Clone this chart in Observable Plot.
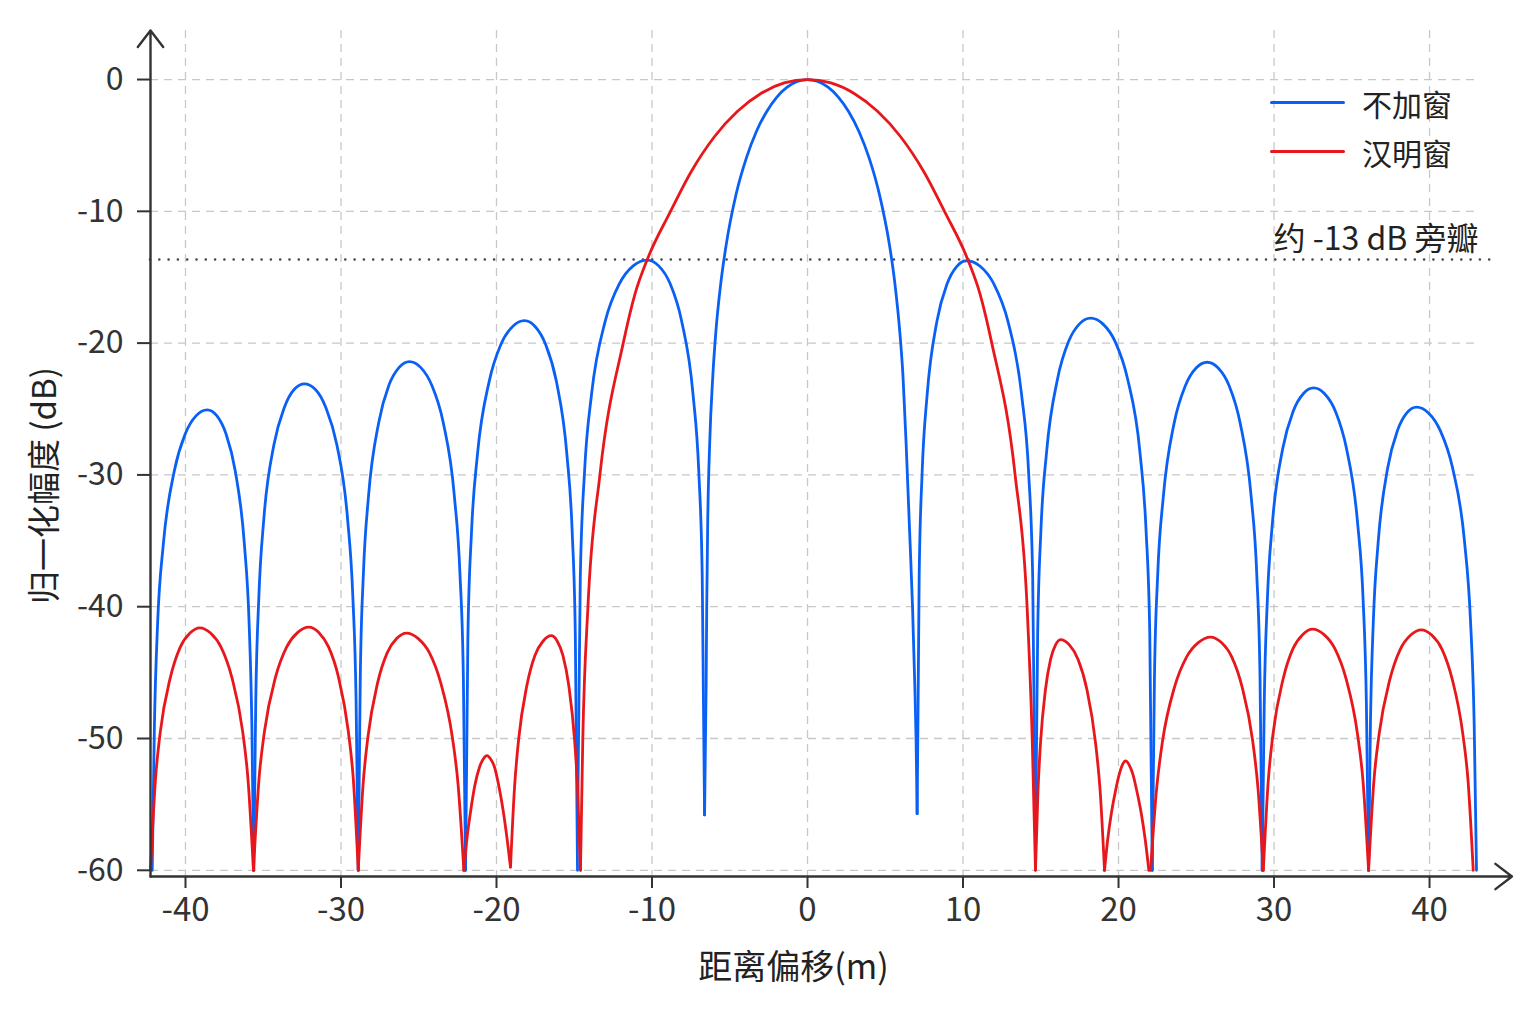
<!DOCTYPE html>
<html><head><meta charset="utf-8">
<script src="https://cdn.jsdelivr.net/npm/d3@7"></script>
<script src="https://cdn.jsdelivr.net/npm/@observablehq/plot@0.6"></script>
<style>
html,body{margin:0;padding:0;background:#fff;}
#wrap{position:relative;width:1536px;height:1024px;font-family:"Noto Sans CJK SC","Noto Sans",sans-serif;}
#legend{position:absolute;left:1270px;top:78px;}
.item{display:flex;align-items:center;height:49px;}
.swatch{width:75px;height:3.5px;margin-right:17px;border-radius:2px;}
.lab{font-size:30px;color:#222;line-height:1;}
</style></head><body><div id="wrap"><div id="legend"></div></div>
<script>
const seriesNames = ["不加窗", "汉明窗"];
const seriesColors = ["#0a60f5", "#e8171b"];
const xTicks = [-40, -30, -20, -10, 0, 10, 20, 30, 40];
const yTicks = [0, -10, -20, -30, -40, -50, -60];
const xDomain = [-42.25, 43.02];
const yDomain = [-60.47, 3.72];
const xAxisEnd = 45.3;
const sidelobeLevel = -13.66;
const sidelobeLineEnd = 44.4;
const sidelobeLabel = "约 -13 dB 旁瓣";
const xLabel = "距离偏移(m)";
const yLabel = "归一化幅度 (dB)";

// 不加窗 (unwindowed) — lobes, [x, dB]
const unwindowedLobes = [
  [[-42.14,-60],[-42.00,-49.1],[-41.79,-41.2],[-41.43,-35.3],[-40.72,-29.7],[-40.02,-26.9],[-39.31,-25.5],[-38.60,-25.06],[-37.99,-25.5],[-37.39,-26.9],[-36.80,-29.7],[-36.21,-35.3],[-35.91,-41.2],[-35.73,-49.1],[-35.61,-60]],
  [[-35.61,-60],[-35.48,-47.1],[-35.28,-39.2],[-34.96,-33.3],[-34.31,-27.7],[-33.65,-24.9],[-33.00,-23.5],[-32.35,-23.09],[-31.66,-23.5],[-30.97,-24.9],[-30.27,-27.7],[-29.58,-33.3],[-29.24,-39.2],[-29.03,-47.1],[-28.89,-60]],
  [[-28.89,-60],[-28.76,-45.4],[-28.56,-37.5],[-28.23,-31.6],[-27.57,-26.0],[-26.92,-23.2],[-26.26,-21.84],[-25.60,-21.4],[-24.88,-21.84],[-24.16,-23.2],[-23.43,-26.0],[-22.71,-31.6],[-22.35,-37.5],[-22.13,-45.4],[-21.99,-60]],
  [[-21.99,-60],[-21.84,-42.3],[-21.61,-34.4],[-21.23,-28.5],[-20.47,-22.9],[-19.72,-20.1],[-18.96,-18.74],[-18.20,-18.3],[-17.52,-18.74],[-16.84,-20.1],[-16.15,-22.9],[-15.47,-28.5],[-15.13,-34.4],[-14.93,-42.3],[-14.79,-60]],
  [[-14.79,-57],[-14.61,-37.7],[-14.34,-29.8],[-13.89,-23.9],[-13.00,-18.3],[-12.10,-15.5],[-11.21,-14.14],[-10.31,-13.7],[-9.57,-14.14],[-8.83,-15.5],[-8.10,-18.3],[-7.36,-23.9],[-6.99,-29.8],[-6.77,-37.7],[-6.62,-55.8]],
  [[-6.62,-55.8],[-6.52,-46],[-6.48,-39.9],[-6.42,-33.8],[-6.29,-27.6],[-6.09,-22.5],[-5.90,-19.23],[-5.57,-15.39],[-5.24,-12.62],[-4.59,-8.69],[-3.93,-5.94],[-3.28,-3.92],[-2.62,-2.42],[-1.97,-1.33],[-1.31,-0.58],[-0.66,-0.14],[0,0],
   [0.66,-0.14],[1.32,-0.58],[1.98,-1.33],[2.64,-2.42],[3.30,-3.92],[3.96,-5.94],[4.62,-8.69],[5.28,-12.62],[5.61,-15.39],[5.94,-19.23],[6.14,-22.5],[6.34,-27.6],[6.55,-33.8],[6.75,-39.9],[6.90,-46],[6.98,-50],[7.05,-55.7]],
  [[7.05,-55.7],[7.18,-37.75],[7.37,-29.85],[7.69,-23.95],[8.32,-18.35],[8.96,-15.55],[9.59,-14.19],[10.23,-13.75],[11.12,-14.19],[12.00,-15.55],[12.89,-18.35],[13.77,-23.95],[14.22,-29.85],[14.48,-37.75],[14.66,-58]],
  [[14.66,-58],[14.80,-42.1],[15.01,-34.2],[15.37,-28.3],[16.08,-22.7],[16.78,-19.9],[17.49,-18.54],[18.20,-18.1],[18.99,-18.54],[19.79,-19.9],[20.58,-22.7],[21.38,-28.3],[21.77,-34.2],[22.01,-42.1],[22.17,-60]],
  [[22.17,-60],[22.31,-45.45],[22.52,-37.55],[22.88,-31.65],[23.58,-26.05],[24.29,-23.25],[24.99,-21.89],[25.70,-21.45],[26.41,-21.89],[27.12,-23.25],[27.82,-26.05],[28.53,-31.65],[28.89,-37.55],[29.10,-45.45],[29.24,-60]],
  [[29.24,-60],[29.37,-47.4],[29.57,-39.5],[29.90,-33.6],[30.56,-28.0],[31.22,-25.2],[31.88,-23.84],[32.54,-23.4],[33.25,-23.84],[33.96,-25.2],[34.66,-28.0],[35.37,-33.6],[35.73,-39.5],[35.94,-47.4],[36.08,-60]],
  [[36.08,-60],[36.20,-48.86],[36.39,-40.96],[36.70,-35.06],[37.31,-29.46],[37.93,-26.66],[38.54,-25.3],[39.16,-24.86],[39.93,-25.3],[40.70,-26.66],[41.48,-29.46],[42.25,-35.06],[42.63,-40.96],[42.87,-48.86],[43.02,-60]]
];

// 汉明窗 (Hamming window) — lobes, [x, dB]
const hammingLobes = [
  [[-42.25,-60],[-41.93,-53.1],[-41.62,-49.5],[-40.98,-45.4],[-40.35,-43.1],[-39.71,-42.0],[-39.08,-41.6],[-38.39,-42.0],[-37.70,-43.1],[-37.01,-45.4],[-36.32,-49.5],[-35.98,-53.1],[-35.63,-60]],
  [[-35.63,-60],[-35.27,-53.05],[-34.92,-49.45],[-34.21,-45.35],[-33.49,-43.05],[-32.78,-41.95],[-32.07,-41.55],[-31.43,-41.95],[-30.80,-43.05],[-30.16,-45.35],[-29.53,-49.45],[-29.21,-53.05],[-28.89,-60]],
  [[-28.89,-60],[-28.58,-53.5],[-28.27,-49.9],[-27.65,-45.8],[-27.03,-43.5],[-26.41,-42.4],[-25.79,-42.0],[-25.05,-42.4],[-24.31,-43.5],[-23.58,-45.8],[-22.84,-49.9],[-22.47,-53.5],[-22.10,-60]],
  [[-22.10,-60],[-21.90,-57.6],[-21.65,-55.4],[-21.40,-53.6],[-21.10,-52.2],[-20.85,-51.55],[-20.62,-51.3],[-20.38,-51.55],[-20.12,-52.2],[-19.85,-53.6],[-19.58,-55.4],[-19.32,-57.6],[-19.10,-59.75]],
  [[-19.10,-59.75],[-18.84,-53.7],[-18.58,-50.1],[-18.05,-46.0],[-17.53,-43.7],[-17.00,-42.6],[-16.48,-42.2],[-16.10,-42.6],[-15.73,-43.7],[-15.35,-46.0],[-14.98,-50.1],[-14.79,-53.7],[-14.60,-60]],
  [[-14.60,-60],[-14.45,-50],[-14.12,-40],[-13.35,-30],[-11.85,-20],[-11.10,-16.3],[-10.25,-13.5],[-8.85,-10.1],[-7.50,-7.03],[-6.00,-4.36],[-4.50,-2.41],[-3.00,-1.06],[-1.50,-0.26],[0,0],
   [1.50,-0.26],[3.00,-1.06],[4.50,-2.41],[6.00,-4.36],[7.50,-7.03],[8.85,-10.1],[10.25,-13.5],[11.10,-16.3],[11.85,-20],[13.35,-30],[14.12,-40],[14.45,-50],[14.66,-60]],
  [[14.66,-60],[14.82,-54.0],[14.98,-50.4],[15.30,-46.3],[15.63,-44.0],[15.95,-42.9],[16.27,-42.5],[16.84,-42.9],[17.40,-44.0],[17.97,-46.3],[18.53,-50.4],[18.82,-54.0],[19.10,-60]],
  [[19.10,-60],[19.30,-57.7],[19.55,-55.6],[19.80,-54.0],[20.05,-52.7],[20.25,-52.0],[20.45,-51.7],[20.68,-52.0],[20.92,-52.7],[21.18,-54.0],[21.45,-55.6],[21.72,-57.7],[21.95,-60]],
  [[22.06,-60],[22.45,-53.8],[22.83,-50.2],[23.60,-46.1],[24.38,-43.8],[25.15,-42.7],[25.92,-42.3],[26.60,-42.7],[27.28,-43.8],[27.95,-46.1],[28.63,-50.2],[28.97,-53.8],[29.31,-60]],
  [[29.31,-60],[29.63,-53.2],[29.94,-49.6],[30.58,-45.5],[31.21,-43.2],[31.85,-42.1],[32.48,-41.7],[33.20,-42.1],[33.92,-43.2],[34.64,-45.5],[35.36,-49.6],[35.72,-53.2],[36.08,-60]],
  [[36.08,-60],[36.42,-53.25],[36.76,-49.65],[37.44,-45.55],[38.11,-43.25],[38.79,-42.15],[39.47,-41.75],[40.14,-42.15],[40.81,-43.25],[41.47,-45.55],[42.14,-49.65],[42.48,-53.25],[42.81,-60]]
];

const toRows = (lobes, key) => lobes.flatMap((lobe, i) => lobe.map(([x, y]) => ({x, y, lobe: key + i})));
const axisArrows = [
  {x1: xDomain[0], y1: yDomain[0], x2: xAxisEnd, y2: yDomain[0]},
  {x1: xDomain[0], y1: yDomain[0], x2: xDomain[0], y2: yDomain[1]}
];
const font = '"Noto Sans CJK SC","Noto Sans",sans-serif';
const gridStyle = {stroke: "#c8c8c8", strokeOpacity: 1, strokeWidth: 1.3, strokeDasharray: "8,6"};

const chart = Plot.plot({
  width: 1536, height: 1024,
  marginTop: 30, marginBottom: 148, marginLeft: 150, marginRight: 60,
  x: {domain: xDomain},
  y: {domain: yDomain},
  style: {background: "#fff", fontFamily: font, color: "#333"},
  marks: [
    Plot.gridX(xTicks, gridStyle),
    Plot.gridY(yTicks, gridStyle),
    Plot.ruleY([sidelobeLevel], {x1: xDomain[0], x2: sidelobeLineEnd, stroke: "#444", strokeWidth: 2.6, strokeDasharray: "0,9.3", strokeLinecap: "round"}),
    Plot.line(toRows(unwindowedLobes, "u"), {x: "x", y: "y", z: "lobe", curve: "monotone-x", stroke: seriesColors[0], strokeWidth: 2.8}),
    Plot.line(toRows(hammingLobes, "h"), {x: "x", y: "y", z: "lobe", curve: "monotone-x", stroke: seriesColors[1], strokeWidth: 2.8}),
    Plot.axisX(xTicks, {tickSize: 12, tickPadding: 9, fontSize: 33, tickFormat: d => String(d), label: null, strokeWidth: 2}),
    Plot.axisY(yTicks, {tickSize: 13, tickPadding: 14, fontSize: 32, tickFormat: d => String(d), label: null, strokeWidth: 2}),
    Plot.arrow(axisArrows, {x1: "x1", y1: "y1", x2: "x2", y2: "y2", stroke: "#333", strokeWidth: 2.4, headLength: 13, headAngle: 75}),
    Plot.text([sidelobeLabel], {y: [sidelobeLevel], frameAnchor: "right", textAnchor: "end", dx: 2, dy: -20, fontSize: 32, fill: "#222"}),
    Plot.text([xLabel], {frameAnchor: "bottom", textAnchor: "middle", lineAnchor: "middle", dx: -20, dy: 92, fontSize: 34, fill: "#222"}),
    Plot.text([yLabel], {frameAnchor: "left", textAnchor: "middle", lineAnchor: "middle", rotate: -90, dx: -105, dy: 32, fontSize: 33, fill: "#222"})
  ]
});
const wrap = document.getElementById("wrap");
wrap.insertBefore(chart, wrap.firstChild);

const legend = document.getElementById("legend");
seriesNames.forEach((name, i) => {
  const item = document.createElement("div");
  item.className = "item";
  item.innerHTML = `<div class="swatch" style="background:${seriesColors[i]}"></div><span class="lab">${name}</span>`;
  legend.appendChild(item);
});
</script></body></html>
